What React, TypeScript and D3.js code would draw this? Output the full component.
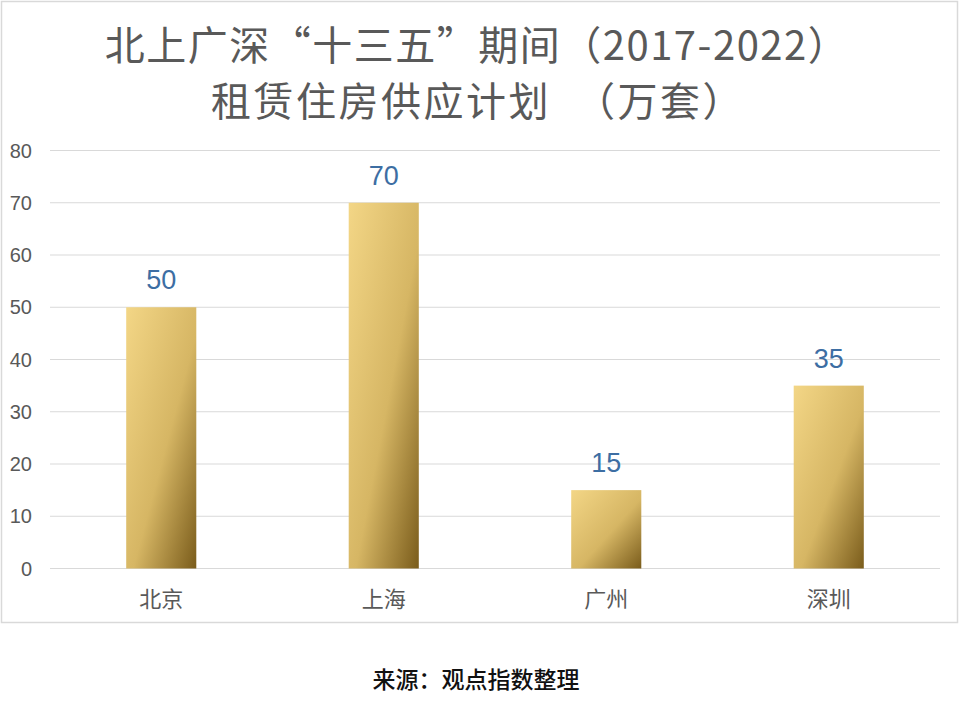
import React from "react";
import * as d3 from "d3";

const categories = ["北京", "上海", "广州", "深圳"];
const values = [50, 70, 15, 35];
const yTicks = [0, 10, 20, 30, 40, 50, 60, 70, 80];
const titleLine1 = "北上广深“十三五”期间（2017-2022）";
const titleLine2a = "租赁住房供应计划";
const titleLine2b = "（万套）";
const sourceText = "来源：观点指数整理";

const W = 960;
const H = 707;
const plot = { left: 50, right: 940, top: 150.5, bottom: 568.5 };

export default function App() {
  const x = d3
    .scaleBand<string>()
    .domain(categories)
    .range([plot.left, plot.right])
    .paddingInner(0.685)
    .paddingOuter(0.3425);
  const y = d3.scaleLinear().domain([0, 80]).range([plot.bottom, plot.top]);
  const cjk = "'Noto Sans CJK SC', 'Noto Sans', sans-serif";
  const latin = "'Liberation Sans', Arial, sans-serif";

  return (
    <svg
      width={W}
      height={H}
      viewBox={`0 0 ${W} ${H}`}
      style={{ position: "absolute", left: 0, top: 0, background: "#fff" }}
    >
      <defs>
        <linearGradient id="gold" x1="0" y1="0" x2="1" y2="1">
          <stop offset="0" stopColor="#F3D686" />
          <stop offset="0.55" stopColor="#D6B664" />
          <stop offset="1" stopColor="#7A5C1B" />
        </linearGradient>
      </defs>
      <rect x={0} y={0} width={W} height={H} fill="#fff" />
      <rect x={1.5} y={1.5} width={956} height={621} fill="none" stroke="#D9D9D9" strokeWidth={1.5} />

      <text
        x={477}
        y={60}
        textAnchor="middle"
        fontFamily={cjk}
        fontSize={40}
        letterSpacing={1.5}
        fill="#595959"
      >
        {titleLine1}
      </text>
      <text
        x={478}
        y={116}
        textAnchor="middle"
        fontFamily={cjk}
        fontSize={40}
        letterSpacing={2.5}
        fill="#595959"
      >
        <tspan>{titleLine2a}</tspan>
        <tspan dx={24}>{titleLine2b}</tspan>
      </text>

      {yTicks.map((v) => (
        <g key={v}>
          <line
            x1={plot.left}
            x2={plot.right}
            y1={y(v)}
            y2={y(v)}
            stroke="#D9D9D9"
            strokeWidth={1}
          />
          <text
            x={32}
            y={y(v) + 7}
            textAnchor="end"
            fontFamily={latin}
            fontSize={20}
            fill="#595959"
          >
            {v}
          </text>
        </g>
      ))}

      {categories.map((c, i) => {
        const bx = x(c)!;
        const bw = x.bandwidth();
        return (
          <g key={c}>
            <rect
              x={bx}
              y={y(values[i])}
              width={bw}
              height={y(0) - y(values[i])}
              fill="url(#gold)"
            />
            <text
              x={bx + bw / 2}
              y={y(values[i]) - 18}
              textAnchor="middle"
              fontFamily={latin}
              fontSize={27}
              fill="#3D6EA3"
            >
              {values[i]}
            </text>
            <text
              x={bx + bw / 2}
              y={607}
              textAnchor="middle"
              fontFamily={cjk}
              fontSize={22}
              fill="#595959"
            >
              {c}
            </text>
          </g>
        );
      })}

      <text
        x={476}
        y={688}
        textAnchor="middle"
        fontFamily={cjk}
        fontSize={23}
        fontWeight={500}
        fill="#111"
      >
        {sourceText}
      </text>
    </svg>
  );
}
